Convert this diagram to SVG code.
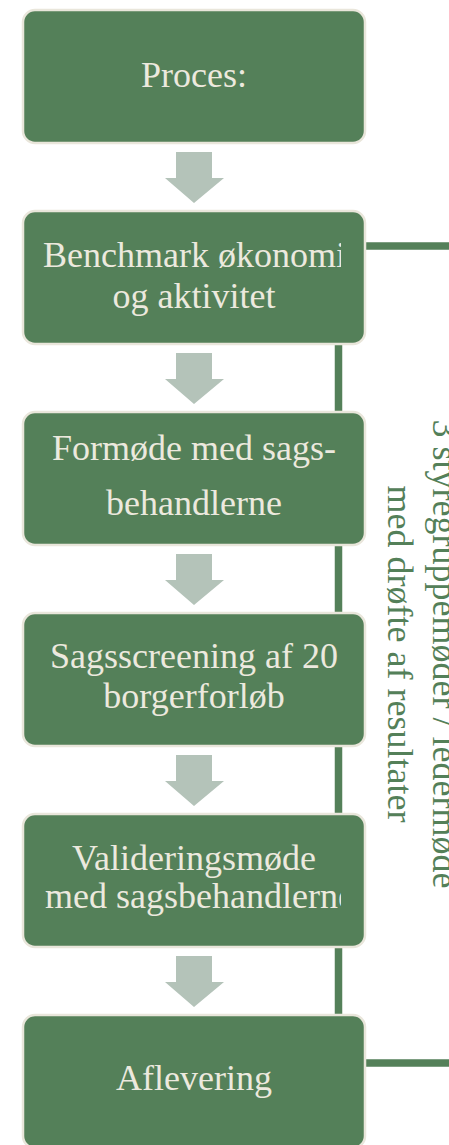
<svg xmlns="http://www.w3.org/2000/svg" width="449" height="1145" viewBox="0 0 449 1145">
<style>
.box{fill:#548059;stroke:#e9e6db;stroke-width:2.5}
.arrow{fill:#b4c3b9}
.t{font-family:"Liberation Serif",serif;font-size:36px;fill:#ece9de;text-anchor:middle}
.ts{font-family:"Liberation Serif",serif;font-size:36px;fill:#ece9de;text-anchor:start}
.side{font-family:"Liberation Serif",serif;font-size:36px;fill:#548059;text-anchor:middle}
.conn{fill:none;stroke:#548059;stroke-width:7.5}
</style>
<defs>
<clipPath id="inner" clipPathUnits="userSpaceOnUse"><rect x="43" y="0" width="298" height="1145"/></clipPath>
</defs>
<rect width="449" height="1145" fill="#ffffff"/>
<g id="connectors">
<path class="conn" d="M449,246 H338.5 V1063 H449"/>
<polygon class="arrow" points="176,152 212,152 212,178 224,178 194,203 165,178 176,178"/>
<polygon class="arrow" points="176,353 212,353 212,379 224,379 194,404 165,379 176,379"/>
<polygon class="arrow" points="176,554 212,554 212,580 224,580 194,605 165,580 176,580"/>
<polygon class="arrow" points="176,755 212,755 212,781 224,781 194,806 165,781 176,781"/>
<polygon class="arrow" points="176,956 212,956 212,982 224,982 194,1007 165,982 176,982"/>
</g>
<g id="node1">
<rect class="box" x="23" y="10" width="342" height="133" rx="12"/>
<text class="t" x="194" y="87">Proces:</text>
</g>
<g id="node2">
<rect class="box" x="23" y="211" width="342" height="133" rx="12"/>
<text class="ts" x="43" y="267" clip-path="url(#inner)">Benchmark økonomi</text>
<text class="t" x="194" y="308">og aktivitet</text>
</g>
<g id="node3">
<rect class="box" x="23" y="412" width="342" height="133" rx="12"/>
<text class="t" x="194" y="460">Formøde med sags-</text>
<text class="t" x="194" y="515">behandlerne</text>
</g>
<g id="node4">
<rect class="box" x="23" y="613" width="342" height="133" rx="12"/>
<text class="t" x="194" y="668">Sagsscreening af 20</text>
<text class="t" x="194" y="708">borgerforløb</text>
</g>
<g id="node5">
<rect class="box" x="23" y="814" width="342" height="133" rx="12"/>
<text class="t" x="194" y="870">Valideringsmøde</text>
<text class="ts" x="45" y="908" clip-path="url(#inner)">med sagsbehandlerne</text>
</g>
<g id="node6">
<rect class="box" x="23" y="1015" width="342" height="133" rx="12"/>
<text class="t" x="194" y="1090">Aflevering</text>
</g>
<g id="sidelabel">
<text class="side" transform="translate(433,654) rotate(90)" x="0" y="0">3 styregruppemøder / ledermøde</text>
<text class="side" transform="translate(388,654) rotate(90)" x="0" y="0">med drøfte af resultater</text>
</g>
</svg>
